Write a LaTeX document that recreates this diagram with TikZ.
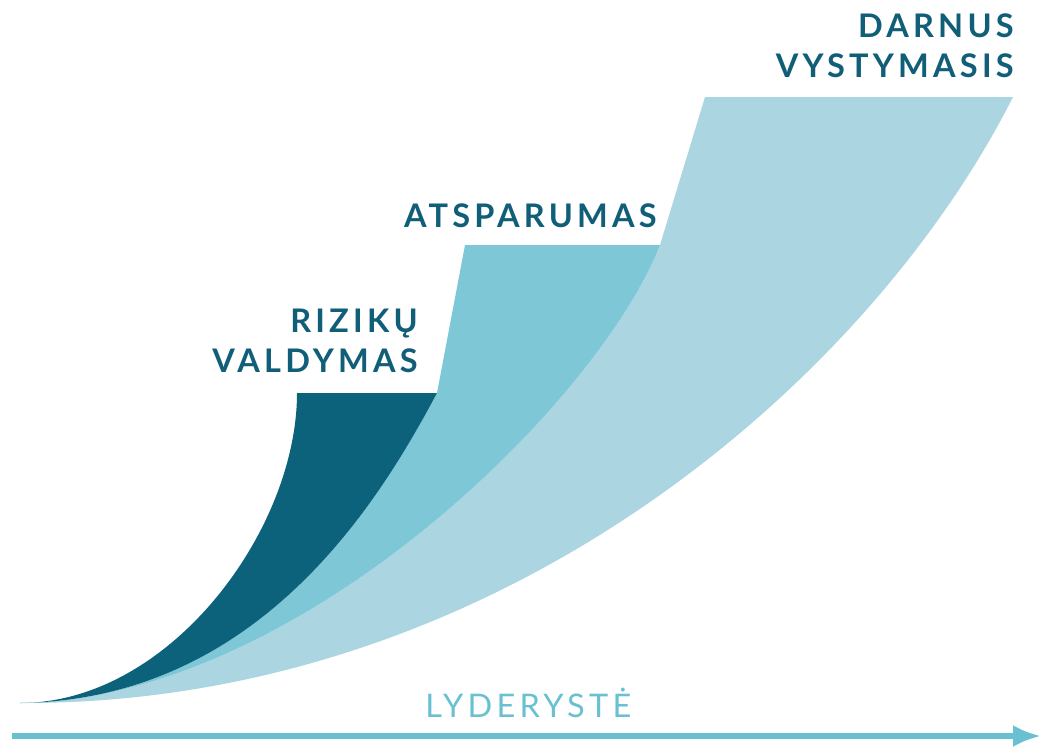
\documentclass[tikz,border=0pt]{standalone}
\usepackage{fontspec}
\usepackage{color}
\setmainfont{Lato}
\newfontfamily\headfont{Lato}[LetterSpace=13]
\usetikzlibrary{arrows.meta}

\definecolor{darkteal}{RGB}{12,98,123}
\definecolor{midteal}{RGB}{126,199,214}
\definecolor{lightteal}{RGB}{171,214,225}
\definecolor{labelblue}{RGB}{16,94,120}
\definecolor{lineblue}{RGB}{104,192,208}

\tikzset{
  stagelabel/.style={font=\headfont\bfseries\fontsize{18.5}{22.4}\selectfont, text=labelblue, align=right, inner sep=0pt},
  axislabel/.style={font=\headfont\fontsize{18.5}{22}\selectfont, text=lineblue, inner sep=0pt},
  lead/.style={line width=2.9pt, draw=lineblue, -{Latex[length=0.56cm, width=0.44cm]}}
}

\begin{document}
\begin{tikzpicture}[x=0.02cm, y=-0.02cm]
\useasboundingbox (0, 0) rectangle (1041, 747);
\coordinate (tip) at (20, 703);
% bands, from the back to the front
\fill [lightteal] (tip) .. controls (500, 705) and (870, 380) .. (1013, 97)
  -- (705, 97) -- (660, 245) .. controls (600, 400) and (300, 700) .. (tip) -- cycle;
\fill [midteal] (tip) .. controls (300, 700) and (600, 400) .. (660, 245)
  -- (465, 245) -- (437, 393) .. controls (380, 500) and (260, 700) .. (tip) -- cycle;
\fill [darkteal] (tip) .. controls (260, 700) and (380, 500) .. (437, 393)
  -- (297, 393) .. controls (297, 530) and (170, 703) .. (tip) -- cycle;
% labels
\node [stagelabel, anchor=base east] (risk) at (418, 372) {RIZIKŲ\\VALDYMAS};
\node [stagelabel, anchor=base east] (resil) at (657, 227) {ATSPARUMAS};
\node [stagelabel, anchor=base east] (sustain) at (1014, 77) {DARNUS\\VYSTYMASIS};
\node [axislabel, anchor=base west] (lead) at (425, 717) {LYDERYSTĖ};
% axis
\coordinate (axstart) at (12, 736);
\coordinate (axend) at (1041, 736);
\draw [lead] (axstart) -- (axend);
\end{tikzpicture}
\end{document}
